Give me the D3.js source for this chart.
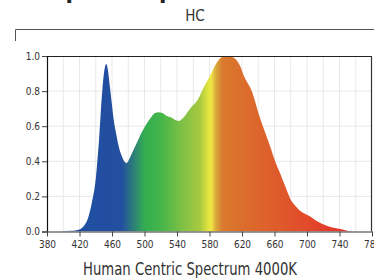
<!DOCTYPE html>
<html>
<head>
<meta charset="utf-8">
<script src="https://cdn.jsdelivr.net/npm/d3@7"></script>
<style>
  body { margin: 0; background: #fff; }
  svg { display: block; }
  text { font-family: "Liberation Sans Narrow", "DejaVu Sans Condensed", sans-serif; }
</style>
</head>
<body>
<svg id="chart"></svg>
<script>
// DATA
const wavelengths = [380, 400, 410, 420, 425, 430, 435, 440, 444, 448, 451, 453, 455, 457, 460, 462, 465, 468, 472, 475, 478,
  482, 486, 490, 496, 502, 508, 513, 517, 522, 527, 533, 538, 542, 548, 556, 566, 574, 581, 588, 594, 600, 606, 613,
  618, 622, 632, 642, 648, 655, 660, 667, 673, 679, 685, 691, 698, 704, 710, 716, 722, 728, 734, 741, 746, 751, 756, 780];
const intensity = [0, 0.002, 0.004, 0.012, 0.03, 0.07, 0.16, 0.3, 0.52, 0.8, 0.93, 0.955, 0.92, 0.84, 0.72, 0.64, 0.56, 0.49, 0.43, 0.40, 0.39,
  0.42, 0.46, 0.50, 0.56, 0.61, 0.65, 0.675, 0.68, 0.675, 0.66, 0.65, 0.635, 0.63, 0.65, 0.70, 0.755, 0.83, 0.89, 0.955, 0.99, 1.0, 0.997, 0.977,
  0.94, 0.89, 0.80, 0.65, 0.57, 0.48, 0.41, 0.33, 0.26, 0.19, 0.15, 0.12, 0.10, 0.085, 0.065, 0.05, 0.037, 0.027, 0.02, 0.014, 0.008, 0.003, 0, 0];
const xTicks = [380, 420, 460, 500, 540, 580, 620, 660, 700, 740, 780];
const yTicks = [0.0, 0.2, 0.4, 0.6, 0.8, 1.0];
const gradientNm = [420, 472, 486, 500, 520, 545, 568, 578, 582, 588, 596, 630, 690, 740];
const gradientColors = ["#1f4ea1", "#244fa0", "#2b7d7a", "#33ad50", "#45b64a", "#7bbf45", "#a8c940", "#dde23e",
  "#f0e643", "#d9a83a", "#d97a2e", "#dc6a2c", "#e04f2a", "#e6352a"];
const chartTitle = "HC";
const caption = "Human Centric Spectrum 4000K";

// SETUP
const width = 374, height = 278;
const margin = {top: 56, left: 47, right: 2, bottom: 46.5};
const innerW = width - margin.left - margin.right;
const innerH = height - margin.top - margin.bottom;

const svg = d3.select("#chart").attr("width", width).attr("height", height);

// heading above the panel, cropped by the picture's top edge
svg.append("text")
  .attr("x", 50).attr("y", -2)
  .attr("font-size", 24).attr("font-weight", "bold").attr("fill", "#222")
  .text("Spectral power distribution");

svg.append("text")
  .attr("x", 195).attr("y", 21)
  .attr("text-anchor", "middle").attr("font-size", 15).attr("fill", "#333")
  .text(chartTitle);

// bracket line under the title
svg.append("path")
  .attr("d", "M15.5,41 V29.5 H374")
  .attr("fill", "none").attr("stroke", "#555").attr("stroke-width", 1);

const g = svg.append("g").attr("transform", `translate(${margin.left},${margin.top})`);

const x = d3.scaleLinear().domain([380, 780]).range([0, innerW]);
const y = d3.scaleLinear().domain([0, 1]).range([innerH, 0]);

// grid
g.append("g").selectAll("line")
  .data(d3.range(400, 780, 20))
  .enter().append("line")
  .attr("x1", d => x(d)).attr("x2", d => x(d))
  .attr("y1", 0).attr("y2", innerH)
  .attr("stroke", "#e8e8e8").attr("stroke-width", 1);

g.append("g").selectAll("line")
  .data(yTicks.slice(1, -1))
  .enter().append("line")
  .attr("x1", 0).attr("x2", innerW)
  .attr("y1", d => y(d)).attr("y2", d => y(d))
  .attr("stroke", "#e8e8e8").attr("stroke-width", 1);

// gradient fill
const defs = svg.append("defs");
const grad = defs.append("linearGradient")
  .attr("id", "spectrum")
  .attr("gradientUnits", "userSpaceOnUse")
  .attr("x1", x(380)).attr("x2", x(780)).attr("y1", 0).attr("y2", 0);
grad.selectAll("stop")
  .data(gradientNm)
  .enter().append("stop")
  .attr("offset", d => (d - 380) / 400)
  .attr("stop-color", (d, i) => gradientColors[i]);

const area = d3.area()
  .x((d, i) => x(wavelengths[i]))
  .y0(innerH)
  .y1(d => y(d))
  .curve(d3.curveMonotoneX);

g.append("path")
  .datum(intensity)
  .attr("d", area)
  .attr("fill", "url(#spectrum)");

// frame top + right
g.append("line").attr("x1", 0).attr("x2", innerW).attr("y1", 0.5).attr("y2", 0.5)
  .attr("stroke", "#222").attr("stroke-width", 1.2);
g.append("line").attr("x1", innerW - 0.5).attr("x2", innerW - 0.5).attr("y1", 0).attr("y2", innerH)
  .attr("stroke", "#333").attr("stroke-width", 1.2);

// axes
const yAxis = g.append("g")
  .call(d3.axisLeft(y).tickValues(yTicks).tickFormat(d3.format(".1f")).tickSize(5).tickPadding(2));
yAxis.select(".domain").attr("stroke", "#111").attr("stroke-width", 1.2);
yAxis.selectAll(".tick line").attr("stroke", "#444");
yAxis.selectAll("text").attr("font-size", 10).attr("fill", "#333")
  .style("font-family", "'Liberation Sans Narrow', 'DejaVu Sans Condensed', sans-serif");

const xAxis = g.append("g")
  .attr("transform", `translate(0,${innerH})`)
  .call(d3.axisBottom(x).tickValues(xTicks).tickSize(5).tickSizeOuter(0).tickPadding(4));
xAxis.select(".domain").attr("stroke", "#777").attr("stroke-width", 1.5);
xAxis.selectAll(".tick line").attr("stroke", "#444");
xAxis.selectAll("text").attr("font-size", 10).attr("fill", "#333")
  .style("font-family", "'Liberation Sans Narrow', 'DejaVu Sans Condensed', sans-serif");

svg.append("text")
  .attr("x", 190).attr("y", 275)
  .attr("text-anchor", "middle").attr("font-size", 17).attr("fill", "#333")
  .attr("textLength", 214).attr("lengthAdjust", "spacingAndGlyphs")
  .text(caption);
</script>
</body>
</html>
